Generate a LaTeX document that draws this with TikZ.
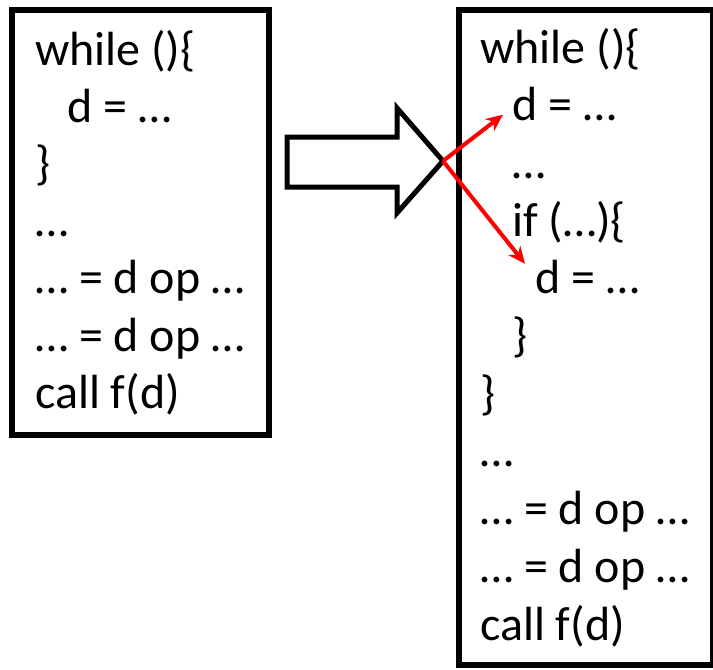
\documentclass[tikz,border=0pt]{standalone}
\usepackage{fontspec}
\setmainfont{Carlito}
\usetikzlibrary{arrows.meta}
\begin{document}
\begin{tikzpicture}[x=1pt,y=-1pt,
    box/.style={draw=black,line width=6pt},
    code/.style={anchor=base west,inner sep=0pt,font=\fontsize{48}{57.5}\selectfont},
    hop/.style={draw=red,line width=4pt,-{Stealth[length=17pt,width=15pt]}}]
  \useasboundingbox (0,0) rectangle (713,670);
  % (a) the loop before
  \draw[box] (12,10) rectangle (269,435);
  \foreach \i/\x/\t in {1/35/{while ()\{}, 2/67/{d = …}, 3/35/{\}}, 4/35/{…},
      5/35/{… = d op …}, 6/35/{… = d op …}, 7/35/{call f(d)}}{
    \node[code] (l\i) at (\x,{65+(\i-1)*57.2}) {\t};
  }
  % the block arrow
  \draw[line width=5pt,miter limit=10] (287,137) -- (397,137) -- (397,108) -- (443,161)
    -- (397,213) -- (397,187) -- (287,187) -- cycle;
  \coordinate (tip) at (443,161);
  % (b) the loop after
  \draw[box] (459,10) rectangle (713,665);
  \foreach \i/\x/\t in {1/480/{while ()\{}, 2/512/{d = …}, 3/512/{…}, 4/512/{if (…)\{},
      5/535/{d = …}, 6/512/{\}}, 7/480/{\}}, 8/480/{…}, 9/480/{… = d op …},
      10/480/{… = d op …}, 11/480/{call f(d)}}{
    \node[code] (r\i) at (\x,{63+(\i-1)*57.7}) {\t};
  }
  \draw[hop] (tip) -- ([shift={(-9,-6)}]r2.base west);
  \draw[hop] (tip) -- ([shift={(-10,-30)}]r5.base west);
\end{tikzpicture}
\end{document}
